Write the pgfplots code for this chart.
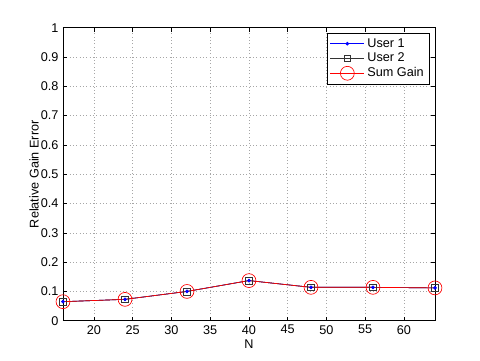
\documentclass[border=0pt]{standalone}
\usepackage{fontspec}
\setmainfont{Liberation Sans}
\usepackage{pgfplots}
\pgfplotsset{compat=1.18}
\begin{document}
\begin{tikzpicture}
\fontsize{9.5}{11}\selectfont
\path[use as bounding box] (0,0) rectangle (360pt,270.75pt);
\begin{axis}[
  at={(47.25pt,30.2pt)}, anchor=south west,
  scale only axis, width=279pt, height=219.75pt,
  xmin=16, xmax=64, ymin=0, ymax=1,
  xtick={20,25,30,35,40,45,50,55,60},
  ytick={0,0.1,0.2,0.3,0.4,0.5,0.6,0.7,0.8,0.9,1},
  yticklabels={0,0.1,0.2,0.3,0.4,0.5,0.6,0.7,0.8,0.9,1},
  xticklabels={20,25,30,35,40,45,50,55,60},
  tick align=inside, major tick length=3pt,
  xtick pos=both, ytick pos=both,
  tick style={black, line width=0.4pt},
  axis line style={line width=0.5pt},
  grid=major,
  major grid style={gray!70, dash pattern=on 0.5pt off 2pt, line width=0.4pt},
  ticklabel style={font=\fontsize{9.5}{11}\selectfont},
  /pgf/number format/assume math mode=true,
  xlabel={N}, ylabel={Relative Gain Error},
  label style={font=\fontsize{9.5}{11}\selectfont},
  xlabel style={yshift=2pt},
  ylabel style={yshift=-5pt},
  legend style={at={(0.985,0.983)}, anchor=north east, draw=black, line width=0.5pt,
    font=\fontsize{9.5}{11}\selectfont, inner sep=2pt, row sep=-1pt,
    cells={anchor=west}},
  legend image code/.code={\draw[mark repeat=2,mark phase=2] plot coordinates {(0cm,0cm) (0.45cm,0cm) (0.9cm,0cm)};},
]
\addplot[blue, line width=0.5pt, mark=*, mark size=1.1pt, mark options={fill=blue}] coordinates {
(16,0.065) (24,0.073) (32,0.100) (40,0.137) (48,0.114) (56,0.114) (64,0.112)};
\addlegendentry{User 1}
\addplot[black!80, line width=0.5pt, mark=square, mark size=2.6pt] coordinates {
(16,0.065) (24,0.073) (32,0.100) (40,0.137) (48,0.114) (56,0.114) (64,0.112)};
\addlegendentry{User 2}
\addplot[red, line width=0.5pt, mark=o, mark size=5.2pt] coordinates {
(16,0.065) (24,0.073) (32,0.100) (40,0.137) (48,0.114) (56,0.114) (64,0.112)};
\addlegendentry{Sum Gain}
\end{axis}
\end{tikzpicture}
\end{document}
